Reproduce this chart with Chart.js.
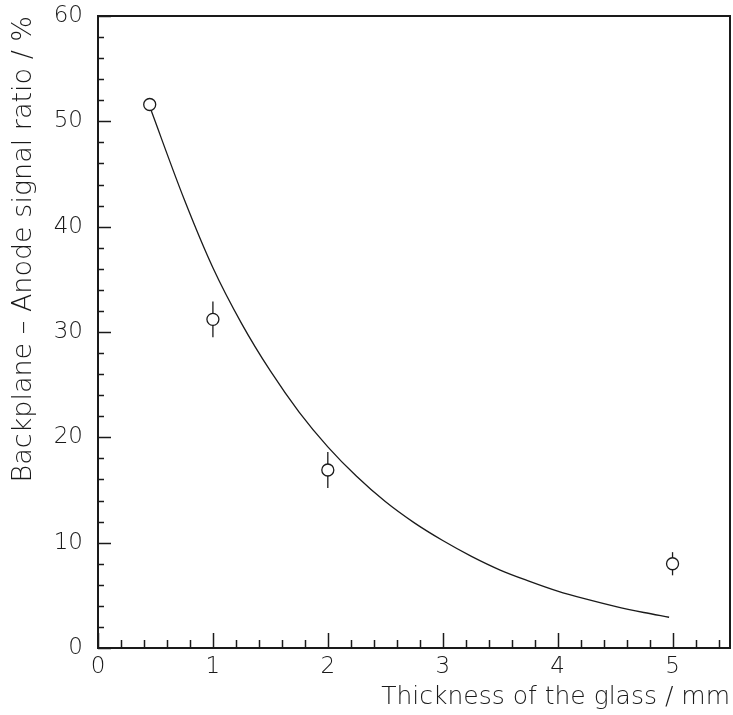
<!DOCTYPE html>
<html>
<head>
<meta charset="utf-8">
<script src="https://cdn.jsdelivr.net/npm/chart.js@4.4.0/dist/chart.umd.min.js"></script>
<style>
  html, body { margin: 0; padding: 0; background: #fff; overflow: hidden; }
  canvas { display: block; }
</style>
</head>
<body>
<canvas id="c" width="733" height="715"></canvas>
<script>
// Measured points
const thickness = [0.45, 1.0, 2.0, 5.0];
const ratio = [51.6, 31.2, 16.9, 8.0];
const ratioErr = [0.5, 1.7, 1.7, 1.1];

// Fitted curve
const fitX = [0.45, 0.75, 1.0, 1.25, 1.5, 1.75, 2.0, 2.25, 2.5, 2.75, 3.0, 3.25, 3.5, 3.75, 4.0, 4.25, 4.5, 4.75, 4.97];
const fitY = [51.4, 42.6, 36.1, 30.8, 26.3, 22.4, 19.1, 16.3, 13.9, 11.9, 10.2, 8.7, 7.4, 6.35, 5.4, 4.63, 3.95, 3.37, 2.92];

// Axis ticks
const xMajorTicks = [0, 1, 2, 3, 4, 5];
const yMajorTicks = [0, 10, 20, 30, 40, 50, 60];
const xMinorStep = 0.2;
const yMinorStep = 2;

const FONT = "'DejaVu Sans', sans-serif";
const INK = '#1a1a1a';

const framePlugin = {
  id: 'frameTicks',
  beforeDatasetsDraw(chart) {
    const ctx = chart.ctx;
    const ys = chart.scales.y, xs = chart.scales.x;
    ctx.save();
    ctx.strokeStyle = INK;
    ctx.lineWidth = 1.3;
    thickness.forEach((xv, i) => {
      const px = xs.getPixelForValue(xv);
      ctx.beginPath();
      ctx.moveTo(px, ys.getPixelForValue(ratio[i] - ratioErr[i]));
      ctx.lineTo(px, ys.getPixelForValue(ratio[i] + ratioErr[i]));
      ctx.stroke();
    });
    ctx.restore();
  },
  afterDraw(chart) {
    const ctx = chart.ctx;
    const a = chart.chartArea;
    const xs = chart.scales.x, ys = chart.scales.y;
    ctx.save();
    ctx.strokeStyle = INK;
    ctx.lineWidth = 2;
    ctx.strokeRect(a.left, a.top, a.right - a.left, a.bottom - a.top);
    ctx.lineWidth = 1.5;
    for (let v = 0; v <= xs.max + 1e-9; v += xMinorStep) {
      const r = Math.round(v * 10) / 10;
      const major = xMajorTicks.includes(r);
      const px = Math.round(xs.getPixelForValue(r)) + 0.5;
      ctx.beginPath();
      ctx.moveTo(px, a.bottom);
      ctx.lineTo(px, a.bottom - (major ? 15 : 8));
      ctx.stroke();
    }
    for (let v = 0; v <= ys.max + 1e-9; v += yMinorStep) {
      const major = yMajorTicks.includes(v);
      const py = Math.round(ys.getPixelForValue(v)) + 0.5;
      ctx.beginPath();
      ctx.moveTo(a.left, py);
      ctx.lineTo(a.left + (major ? 13 : 6), py);
      ctx.stroke();
    }
    ctx.restore();
  }
};

new Chart(document.getElementById('c'), {
  type: 'scatter',
  data: {
    datasets: [
      {
        label: 'data',
        data: thickness.map((x, i) => ({ x: x, y: ratio[i] })),
        showLine: false,
        pointStyle: 'circle',
        pointRadius: 6,
        pointBackgroundColor: '#ffffff',
        pointBorderColor: INK,
        pointBorderWidth: 1.3
      },
      {
        label: 'fit',
        data: fitX.map((x, i) => ({ x: x, y: fitY[i] })),
        showLine: true,
        pointRadius: 0,
        borderColor: INK,
        borderWidth: 1.3,
        cubicInterpolationMode: 'monotone',
        fill: false
      }
    ]
  },
  options: {
    responsive: false,
    animation: false,
    devicePixelRatio: 1,
    layout: { autoPadding: false, padding: { left: 0, top: 16, right: 3, bottom: 0 } },
    plugins: { legend: { display: false }, tooltip: { enabled: false } },
    scales: {
      x: {
        type: 'linear',
        min: 0, max: 5.5,
        afterBuildTicks: s => { s.ticks = xMajorTicks.map(v => ({ value: v })); },
        afterFit: s => { s.height = 67; s.paddingLeft = 0; s.paddingRight = 0; },
        grid: { display: false, drawTicks: false },
        border: { display: false },
        ticks: { color: INK, font: { family: FONT, size: 23, weight: 200 }, padding: 5, maxRotation: 0,
                 callback: v => String(v) },
        title: { display: true, text: 'Thickness of the glass / mm', align: 'end', color: INK,
                 font: { family: FONT, size: 25, weight: 200 }, padding: { top: 0, bottom: 3 } }
      },
      y: {
        type: 'linear',
        min: 0, max: 60,
        afterBuildTicks: s => { s.ticks = yMajorTicks.map(v => ({ value: v })); },
        afterFit: s => { s.width = 98; s.paddingTop = 0; s.paddingBottom = 0; },
        grid: { display: false, drawTicks: false },
        border: { display: false },
        ticks: { color: INK, font: { family: FONT, size: 23, weight: 200 }, padding: 15,
                 callback: v => String(v) },
        title: { display: true, text: 'Backplane \u2013 Anode signal ratio / %', align: 'end', color: INK,
                 font: { family: FONT, size: 27, weight: 200 }, padding: { top: 8, bottom: 0 } }
      }
    }
  },
  plugins: [framePlugin]
});
</script>
</body>
</html>
